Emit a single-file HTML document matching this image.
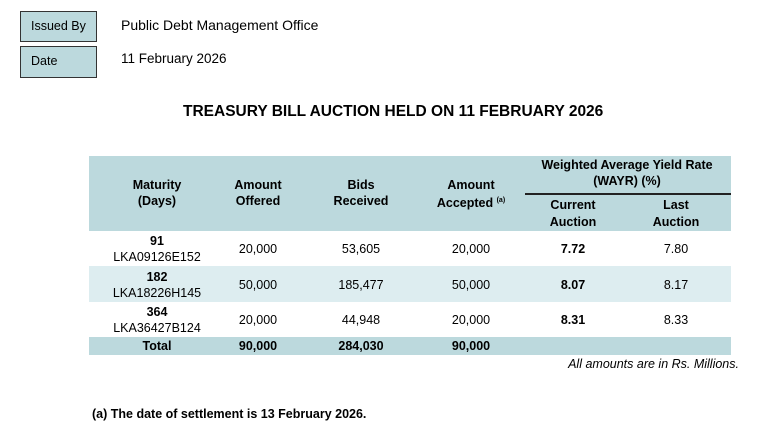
<!DOCTYPE html>
<html><head><meta charset="utf-8"><style>
body{margin:0;width:770px;height:435px;background:#fff;font-family:"Liberation Sans",Arial,sans-serif;color:#000;position:relative;overflow:hidden}
.a{position:absolute;white-space:nowrap}
.box{position:absolute;left:20px;width:77px;background:#bcd9dd;border:1.5px solid #333;box-sizing:border-box;font-size:12.5px;padding-left:10px;line-height:29px}
.c{position:absolute;text-align:center;font-size:12.5px;line-height:16px;transform:translateX(-50%);white-space:nowrap}
.b{font-weight:bold}
</style></head><body>
<div class="box" style="top:11px;height:31px">Issued By</div>
<div class="box" style="top:46px;height:32px">Date</div>
<div class="a" style="left:121px;top:17px;font-size:14px">Public Debt Management Office</div>
<div class="a" style="left:121px;top:51px;font-size:13.5px">11 February 2026</div>
<div class="a b" style="left:183px;top:103px;font-size:15.5px">TREASURY BILL AUCTION HELD ON 11 FEBRUARY 2026</div>

<div class="a" style="left:89px;top:156px;width:642px;height:75px;background:#bcd9dd"></div>
<div class="a" style="left:89px;top:266px;width:642px;height:36px;background:#ddedf0"></div>
<div class="a" style="left:89px;top:337px;width:642px;height:18px;background:#bcd9dd"></div>
<div class="a" style="left:525px;top:193px;width:206px;height:1.5px;background:#222"></div>

<div class="c b" style="left:157px;top:177px">Maturity<br>(Days)</div>
<div class="c b" style="left:258px;top:177px">Amount<br>Offered</div>
<div class="c b" style="left:361px;top:177px">Bids<br>Received</div>
<div class="c b" style="left:471px;top:177px">Amount<br>Accepted <sup style="font-size:7px">(a)</sup></div>
<div class="c b" style="left:627px;top:157px">Weighted Average Yield Rate<br>(WAYR) (%)</div>
<div class="c b" style="left:573px;top:197px;line-height:17px">Current<br>Auction</div>
<div class="c b" style="left:676px;top:197px;line-height:17px">Last<br>Auction</div>

<div class="c" style="left:157px;top:233px"><b>91</b><br>LKA09126E152</div>
<div class="c" style="left:157px;top:269px"><b>182</b><br>LKA18226H145</div>
<div class="c" style="left:157px;top:304px"><b>364</b><br>LKA36427B124</div>

<div class="c" style="left:258px;top:241px">20,000</div><div class="c" style="left:361px;top:241px">53,605</div><div class="c" style="left:471px;top:241px">20,000</div><div class="c b" style="left:573px;top:241px">7.72</div><div class="c" style="left:676px;top:241px">7.80</div>
<div class="c" style="left:258px;top:277px">50,000</div><div class="c" style="left:361px;top:277px">185,477</div><div class="c" style="left:471px;top:277px">50,000</div><div class="c b" style="left:573px;top:277px">8.07</div><div class="c" style="left:676px;top:277px">8.17</div>
<div class="c" style="left:258px;top:312px">20,000</div><div class="c" style="left:361px;top:312px">44,948</div><div class="c" style="left:471px;top:312px">20,000</div><div class="c b" style="left:573px;top:312px">8.31</div><div class="c" style="left:676px;top:312px">8.33</div>
<div class="c b" style="left:157px;top:338px">Total</div><div class="c b" style="left:258px;top:338px">90,000</div><div class="c b" style="left:361px;top:338px">284,030</div><div class="c b" style="left:471px;top:338px">90,000</div>

<div class="a" style="right:31px;top:357px;font-size:12.5px;font-style:italic">All amounts are in Rs. Millions.</div>
<div class="a b" style="left:92px;top:407px;font-size:12.5px">(a) The date of settlement is 13 February 2026.</div>
</body></html>
